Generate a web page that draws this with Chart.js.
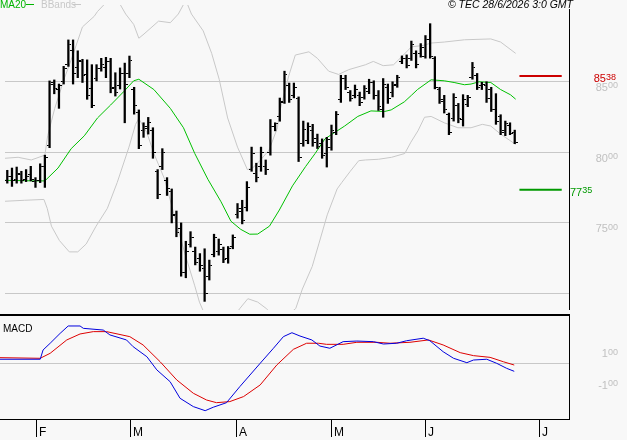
<!DOCTYPE html>
<html>
<head>
<meta charset="utf-8">
<script src="https://cdn.jsdelivr.net/npm/chart.js@4.4.1/dist/chart.umd.min.js"></script>
<style>
body { margin: 0; background: #f8f8f8; }
#wrap { position: relative; width: 627px; height: 440px; overflow: hidden; }
canvas { position: absolute; left: 0; }
#price { top: 0; }
#macd { top: 315px; }
</style>
</head>
<body>
<div id="wrap">
  <canvas id="price" width="627" height="315"></canvas>
  <canvas id="macd" width="627" height="125"></canvas>
</div>
<script>
// daily OHLC, one entry per trading session (late Jan -> 26 Jun 2026)
const opens = [7800,7830,7810,7840,7810,7840,7790,7800,7900,8050,
  8490,8440,8500,8620,8720,8600,8640,8550,8450,8520,
  8590,8600,8640,8460,8470,8560,8560,8440,8280,8150,
  8170,8150,7860,7900,7800,7720,7560,7460,7150,7350,
  7300,7250,7180,7120,7280,7300,7310,7250,7330,7560,
  7580,7610,7880,7850,7900,7900,8000,8180,8250,8350,
  8470,8400,8380,8060,8080,8150,8100,8060,7990,8030,
  8140,8370,8520,8420,8400,8400,8390,8430,8490,8400,
  8300,8460,8420,8480,8640,8660,8660,8700,8700,8680,
  8800,8660,8440,8360,8270,8240,8330,8230,8340,8530,
  8540,8470,8470,8440,8300,8250,8150,8190,8140];
const highs = [7872,7888,7895,7865,7877,7900,7820,7918,7979,8504,
  8511,8482,8607,8794,8794,8717,8657,8653,8619,8619,
  8664,8671,8664,8562,8596,8630,8680,8459,8299,8208,
  8246,8173,7877,8025,7820,7740,7584,7500,7370,7438,
  7329,7283,7317,7237,7420,7386,7329,7333,7415,7637,
  7660,7792,8036,7922,8036,7945,8231,8208,8383,8573,
  8489,8489,8391,8220,8208,8197,8128,8094,8105,8192,
  8288,8544,8544,8436,8475,8425,8471,8516,8505,8436,
  8521,8482,8498,8544,8681,8688,8786,8717,8768,8825,
  8909,8676,8459,8402,8277,8414,8345,8407,8402,8635,
  8557,8494,8498,8459,8414,8265,8220,8208,8156];
const lows = [7781,7758,7781,7781,7792,7797,7751,7785,7751,8032,
  8413,8310,8482,8607,8482,8527,8493,8374,8315,8504,
  8573,8527,8420,8397,8447,8208,8527,8269,8025,8105,
  8128,7957,7671,7877,7694,7500,7402,7123,7112,7329,
  7203,7158,6945,7096,7260,7272,7219,7215,7317,7534,
  7493,7584,7865,7790,7865,7842,7979,8151,8219,8345,
  8352,8384,7934,8042,8060,8042,8026,7957,7895,8014,
  8124,8352,8443,8361,8384,8329,8375,8414,8375,8295,
  8247,8345,8391,8459,8626,8596,8649,8596,8672,8665,
  8665,8448,8345,8277,8124,8220,8208,8185,8322,8516,
  8443,8443,8352,8288,8197,8124,8117,8124,8060];
const closes = [7830,7800,7850,7800,7830,7810,7800,7900,7960,8480,
  8450,8470,8590,8760,8560,8650,8540,8400,8330,8590,
  8620,8640,8450,8420,8560,8480,8650,8330,8050,8180,
  8210,8000,7700,8000,7740,7550,7430,7150,7300,7400,
  7220,7200,7000,7200,7400,7350,7240,7320,7400,7600,
  7520,7750,7990,7820,8000,7880,8180,8200,8360,8550,
  8370,8460,7960,8160,8180,8070,8040,7980,8090,8150,
  8270,8520,8460,8380,8440,8350,8450,8490,8400,8320,
  8480,8380,8470,8530,8660,8610,8760,8620,8740,8800,
  8680,8460,8370,8300,8140,8390,8240,8370,8390,8600,
  8460,8480,8380,8300,8220,8140,8200,8130,8070];

// [session index, value]
const ma20 = [[-0.5,7801],[5.8,7797],[8,7797],[10.8,7888],[13.6,8025],[16.4,8116],[19.2,8242],
  [22,8334],[24.8,8429],[26.9,8505],[28,8516],[31.2,8443],[34.7,8310],[37.5,8173],[39.9,7991],
  [42.7,7808],[45.5,7649],[47.6,7512],[49.7,7454],[51.6,7420],[53.3,7421],[55.8,7477],[57.9,7591],
  [60.7,7762],[63.5,7899],[65.5,7990],[67.6,8094],[71.8,8185],[74.6,8253],[77.4,8292],[80.3,8288],
  [81.7,8299],[84.5,8356],[86,8402],[87.3,8443],[90.2,8512],[93,8505],[95.1,8493],[97.3,8477],
  [98.7,8482],[100.4,8498],[102.9,8493],[105,8443],[107.1,8406],[108.2,8375]];
const bbUpper = [[-0.5,7957],[2.3,7964],[5.1,7945],[8,7979],[8.6,8116],[10.1,8310],[12.2,8527],
  [13.6,8653],[16,8886],[18.5,8961],[19.2,8995],[21.5,9075],[23.5,9075],[25.2,8977],[26.9,8904],
  [28,8806],[29.1,8836],[32.2,8927],[34.7,8916],[36.4,8977],[38,9075],[39.2,8977],[41.7,8858],
  [43.5,8699],[45.1,8516],[46.9,8242],[49,8036],[51.1,7877],[52.2,7888],[53.9,7945],[55.7,8014],
  [57.5,8173],[57.9,8276],[59.9,8539],[61.3,8687],[64.2,8710],[66,8664],[68.4,8573],[70.5,8550],
  [72.7,8584],[76.2,8618],[77.9,8642],[80,8612],[82.2,8618],[84.3,8687],[86,8745],[88.5,8755],
  [90.2,8772],[93,8779],[97.3,8795],[102.9,8801],[105,8779],[108.2,8699]];
const bbLower = [[-0.5,7653],[3.7,7660],[7.8,7666],[8.5,7603],[9.4,7477],[11.1,7375],[13.2,7295],
  [15,7295],[16.8,7351],[18.9,7477],[21.3,7603],[23.4,7786],[25.9,8036],[27.3,8197],[28,8238],
  [29.7,8139],[31.2,7991],[33.5,7808],[35.7,7534],[37.8,7283],[39.9,7055],[40.9,6940],[44,6700],
  [47,6780],[49.5,6895],[51.2,6964],[53.3,6940],[55.1,6895],[58,6800],[61.4,6895],[62.8,7032],
  [64.9,7192],[66.3,7351],[68.1,7557],[70.2,7740],[71.2,7786],[73,7865],[74.8,7940],[76.2,7945],
  [79,7950],[81.8,7964],[84.6,7991],[85.9,8071],[87.4,8151],[88.8,8247],[90.2,8253],[93,8208],
  [95.9,8173],[98.7,8173],[101.1,8197],[102.9,8185],[105,8128],[108.2,8055]];
const macdLine = [[-0.5,27],[8,27],[8.6,86],[10.1,129],[12.2,192],[13.9,239],[16.4,239],[17.1,224],
  [21.3,213],[22.7,182],[26.2,150],[27.6,107],[30.5,43],[32.6,-41],[35.4,-116],[37.5,-222],
  [40.3,-275],[42.8,-301],[44.5,-279],[47.3,-250],[50.1,-148],[54.4,1],[57.2,97],[59.3,171],
  [61.1,196],[62.8,175],[65.3,150],[67,111],[69.1,97],[71.9,139],[74.8,143],[78.3,139],[80.4,124],
  [83.2,129],[85.3,145],[88.8,161],[90.2,145],[93,75],[95.2,33],[98,5],[99.4,22],[102.2,27],
  [104.3,1],[106.4,-31],[108,-50]];
const signalLine = [[-0.5,37],[8,33],[10.1,65],[13.6,150],[16.4,188],[19.2,203],[22,203],[26.9,171],
  [29.7,118],[33.3,11],[36.8,-105],[40.3,-190],[43.1,-233],[45.2,-250],[48,-243],[50.9,-211],
  [54.4,-137],[57.9,-10],[61.4,90],[64.2,129],[66.7,129],[68.4,122],[71.9,122],[74.8,135],[79,135],
  [81.8,129],[86,135],[89.9,150],[93,118],[96.6,69],[99.4,50],[102.9,39],[105.7,11],[108,-10]];

const resistance = 8538;
const support = 7735;
const levelSpan = [109, 118];
const priceGrid = [7000, 7500, 8000, 8500];
const priceLabels = [7500, 8000, 8500];
const macdLabels = [100, -100];
const monthTicks = [7.1, 26.9, 49.2, 69.3, 89.2, 113.2];
const monthLabels = ['F', 'M', 'A', 'M', 'J', 'J'];

const FONT = '"Liberation Sans", Arial, sans-serif';
const xRange = { min: -0.485, max: 119.55 };

function tickImage(left) {
  const c = document.createElement('canvas');
  c.width = 6; c.height = 1;
  const g = c.getContext('2d');
  g.fillStyle = '#000';
  g.fillRect(left ? 0 : 4, 0, 2, 1);
  return c;
}

function pts(list) {
  return list.map(p => ({ x: p[0], y: p[1] }));
}

function splitLabel(ctx, value, x, top, color, align) {
  const s = String(Math.abs(value));
  const big = (value < 0 ? '-' : '') + s.slice(0, s.length - 2);
  const small = s.slice(-2);
  ctx.font = '11px ' + FONT;
  const wb = ctx.measureText(big).width;
  ctx.font = '9px ' + FONT;
  const ws = ctx.measureText(small).width;
  const start = align === 'right' ? x - wb - ws : x;
  ctx.fillStyle = color;
  ctx.textAlign = 'left';
  ctx.textBaseline = 'top';
  ctx.font = '11px ' + FONT;
  ctx.fillText(big, start, top);
  ctx.font = '9px ' + FONT;
  ctx.fillText(small, start + wb, top - 1);
}

const pricePlugin = {
  id: 'priceDecor',
  afterDraw(chart) {
    const ctx = chart.ctx;
    const y = chart.scales.y;
    const area = chart.chartArea;
    ctx.save();
    ctx.fillStyle = '#000';
    ctx.fillRect(Math.round(area.right), 9, 1, area.bottom - 9);
    ctx.fillRect(0, 314, Math.round(area.right) + 1, 1);

    priceLabels.forEach(v => splitLabel(ctx, v, 618, y.getPixelForValue(v) + 1, '#c0c0c0', 'right'));
    splitLabel(ctx, resistance, 616, y.getPixelForValue(resistance) - 2.5, '#cc0000', 'right');
    splitLabel(ctx, support, 570, y.getPixelForValue(support) - 2.5, '#009900', 'left');

    ctx.textBaseline = 'top';
    ctx.textAlign = 'left';
    ctx.font = '10px ' + FONT;
    ctx.fillStyle = '#00b400';
    ctx.fillText('MA20', 0, 0);
    ctx.fillRect(26, 4, 8, 1);
    ctx.fillStyle = '#c8c8c8';
    ctx.fillText('BBands', 41, 0);
    ctx.fillRect(73, 4, 8, 1);

    ctx.fillStyle = '#000';
    ctx.font = 'italic 10.5px ' + FONT;
    ctx.textAlign = 'right';
    ctx.fillText('\u00a9 TEC 28/6/2026 3:0 GMT', 573, 0);
    ctx.restore();
  }
};

const macdPlugin = {
  id: 'macdDecor',
  afterDraw(chart) {
    const ctx = chart.ctx;
    const x = chart.scales.x;
    const y = chart.scales.y;
    const area = chart.chartArea;
    const right = Math.round(area.right);
    ctx.save();
    ctx.fillStyle = '#000';
    ctx.fillRect(0, 0, right + 1, 1);
    ctx.fillRect(right, 0, 1, area.bottom + 1);
    ctx.fillRect(0, area.bottom, right + 1, 1);

    ctx.textBaseline = 'top';
    ctx.textAlign = 'left';
    ctx.font = '10px ' + FONT;
    ctx.fillText('MACD', 3, 9);

    ctx.font = '12px ' + FONT;
    ctx.textBaseline = 'bottom';
    monthTicks.forEach((m, i) => {
      const px = Math.round(x.getPixelForValue(m));
      ctx.fillRect(px, area.bottom, 1, 18);
      ctx.fillText(monthLabels[i], px + 3, area.bottom + 20);
    });

    macdLabels.forEach(v => splitLabel(ctx, v, 618, y.getPixelForValue(v) + 1, '#c0c0c0', 'right'));
    ctx.restore();
  }
};

const lineStyle = { type: 'line', pointRadius: 0, borderWidth: 1, tension: 0, fill: false };

new Chart(document.getElementById('price'), {
  type: 'bar',
  data: {
    datasets: [
      {
        label: 'range',
        data: highs.map((h, i) => ({ x: i, y: [lows[i], h] })),
        backgroundColor: '#000',
        barThickness: 1.6,
        grouped: false,
        order: 0
      },
      {
        type: 'line', label: 'open', showLine: false, order: 0,
        data: opens.map((v, i) => ({ x: i, y: v })),
        pointStyle: tickImage(true), pointRadius: 3
      },
      {
        type: 'line', label: 'close', showLine: false, order: 0,
        data: closes.map((v, i) => ({ x: i, y: v })),
        pointStyle: tickImage(false), pointRadius: 3
      },
      { ...lineStyle, label: 'MA20', data: pts(ma20), borderColor: '#00c000', order: 1 },
      { ...lineStyle, label: 'BB upper', data: pts(bbUpper), borderColor: '#c8c8c8', order: 2 },
      { ...lineStyle, label: 'BB lower', data: pts(bbLower), borderColor: '#c8c8c8', order: 2 },
      { ...lineStyle, label: 'resistance', borderWidth: 2, borderColor: '#cc0000', order: 1,
        data: levelSpan.map(x => ({ x: x, y: resistance })) },
      { ...lineStyle, label: 'support', borderWidth: 2, borderColor: '#009900', order: 1,
        data: levelSpan.map(x => ({ x: x, y: support })) }
    ]
  },
  options: {
    responsive: false,
    animation: false,
    devicePixelRatio: 1,
    events: [],
    layout: { padding: { left: 0, right: 58, top: 0, bottom: 0 } },
    plugins: { legend: { display: false }, tooltip: { enabled: false } },
    scales: {
      x: { type: 'linear', min: xRange.min, max: xRange.max, offset: false, display: false },
      y: {
        type: 'linear', position: 'right', min: 6884, max: 9041,
        afterBuildTicks: s => { s.ticks = priceGrid.map(v => ({ value: v })); },
        afterFit: s => { s.width = 0; },
        ticks: { display: false },
        grid: { color: '#c8c8c8', drawTicks: false, lineWidth: 1 },
        border: { display: false }
      }
    }
  },
  plugins: [pricePlugin]
});

new Chart(document.getElementById('macd'), {
  type: 'line',
  data: {
    datasets: [
      { ...lineStyle, label: 'MACD', data: pts(macdLine), borderColor: '#0000dd' },
      { ...lineStyle, label: 'Signal', data: pts(signalLine), borderColor: '#dd0000' }
    ]
  },
  options: {
    responsive: false,
    animation: false,
    devicePixelRatio: 1,
    events: [],
    layout: { padding: { left: 0, right: 58, top: 0, bottom: 21 } },
    plugins: { legend: { display: false }, tooltip: { enabled: false } },
    scales: {
      x: { type: 'linear', min: xRange.min, max: xRange.max, offset: false, display: false },
      y: {
        type: 'linear', position: 'right', min: -354, max: 309,
        afterBuildTicks: s => { s.ticks = [{ value: 0 }]; },
        afterFit: s => { s.width = 0; },
        ticks: { display: false },
        grid: { color: '#c8c8c8', drawTicks: false },
        border: { display: false }
      }
    }
  },
  plugins: [macdPlugin]
});
</script>
</body>
</html>
